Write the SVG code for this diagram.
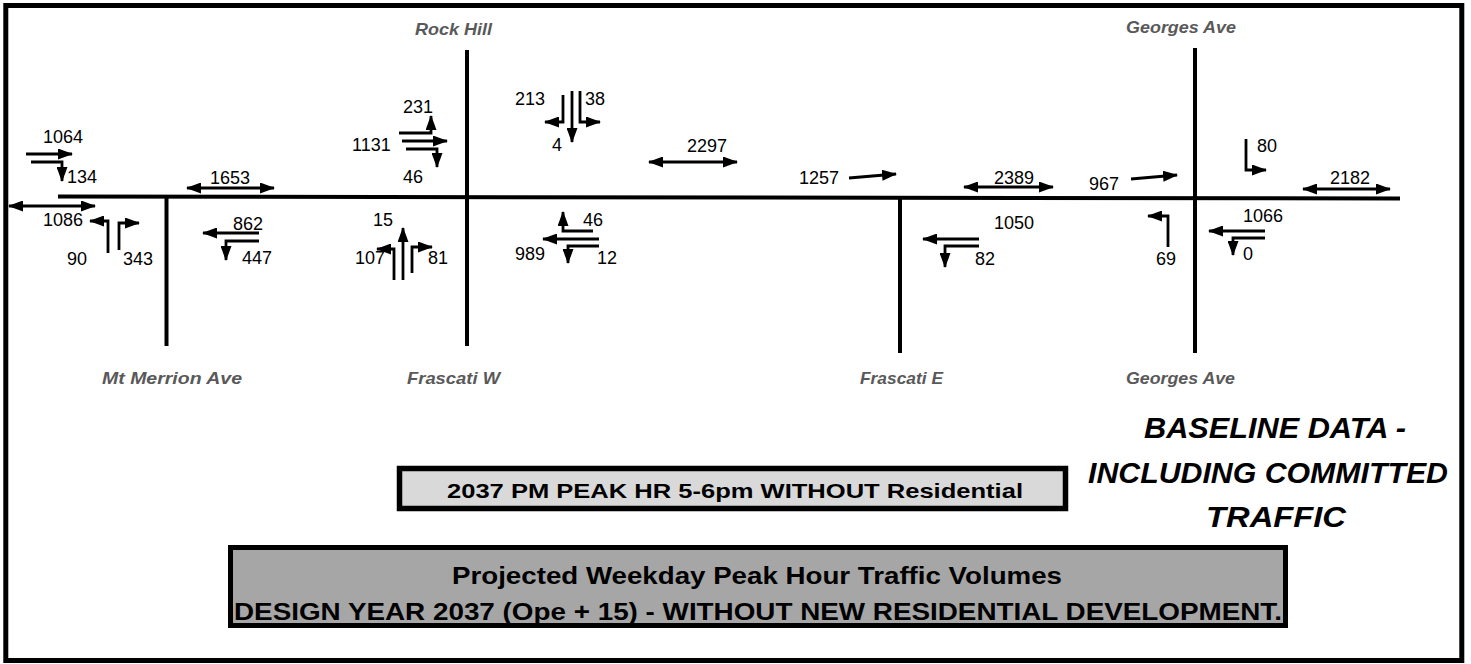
<svg xmlns="http://www.w3.org/2000/svg" width="1471" height="664" viewBox="0 0 1471 664">
<style>
.road{stroke:#000;stroke-width:4;fill:none}
.arr{stroke:#000;stroke-width:2.8;fill:none;marker-end:url(#ah)}
.dbl{stroke:#000;stroke-width:2.8;fill:none;marker-end:url(#ah);marker-start:url(#ah)}
.num{font-family:"Liberation Sans",Arial,sans-serif;font-size:18px;fill:#000}
.st{font-family:"Liberation Sans",Arial,sans-serif;font-size:17px;font-weight:bold;font-style:italic;fill:#595959}
.big{font-family:"Liberation Sans",Arial,sans-serif;font-weight:bold;fill:#000}
</style>
<defs>
<marker id="ah" viewBox="0 0 15 11" refX="14" refY="5.5" markerWidth="15" markerHeight="11" markerUnits="userSpaceOnUse" orient="auto-start-reverse">
<path d="M0,0 L15,5.5 L0,11 z" fill="#000"/>
</marker>
</defs>
<rect x="5.8" y="5.5" width="1456" height="655" fill="#fff" stroke="#000" stroke-width="5"/>

<g id="roads">
<path class="road" d="M58,196.5 L1400,198.5"/>
<path class="road" d="M166.5,197 V346"/>
<path class="road" d="M467,50 V346"/>
<path class="road" d="M900,198 V353"/>
<path class="road" d="M1195,48 V353"/>
</g>

<g id="street-labels">
<text class="st" x="415" y="35" textLength="77" lengthAdjust="spacingAndGlyphs">Rock Hill</text>
<text class="st" x="1126" y="33" textLength="110" lengthAdjust="spacingAndGlyphs">Georges Ave</text>
<text class="st" x="102" y="384" textLength="140" lengthAdjust="spacingAndGlyphs">Mt Merrion Ave</text>
<text class="st" x="407" y="384" textLength="93" lengthAdjust="spacingAndGlyphs">Frascati W</text>
<text class="st" x="860" y="384" textLength="83" lengthAdjust="spacingAndGlyphs">Frascati E</text>
<text class="st" x="1126" y="384" textLength="109" lengthAdjust="spacingAndGlyphs">Georges Ave</text>
</g>

<g id="connectors">
<path class="arr" d="M26,154 L72,154"/>
<path class="arr" d="M31,162 H62 V181"/>
<path class="dbl" d="M9,206 H95"/>
<path class="arr" d="M108,253 V221 H90"/>
<path class="arr" d="M119,250 V223 H139"/>
<path class="dbl" d="M187,188 H274"/>
<path class="arr" d="M259,233 H203"/>
<path class="arr" d="M259,241 H226 V260"/>

<path class="arr" d="M399,133 H431 V116"/>
<path class="arr" d="M402,141 H447"/>
<path class="arr" d="M406,149 H437 V167"/>
<path class="arr" d="M563,95 V122 H545"/>
<path class="arr" d="M572,91 V142"/>
<path class="arr" d="M580,91 V122 H600"/>
<path class="arr" d="M394,280 V249 H377"/>
<path class="arr" d="M403,280 V228"/>
<path class="arr" d="M412,273 V247 H432"/>
<path class="arr" d="M593,231 H563 V212"/>
<path class="arr" d="M599,239 H543"/>
<path class="arr" d="M599,246 H568 V263"/>

<path class="dbl" d="M649,162 H737"/>
<path class="arr" d="M849,178 L896,174"/>
<path class="dbl" d="M964,187 H1053"/>
<path class="arr" d="M979,239 H923"/>
<path class="arr" d="M979,246 H945 V267"/>

<path class="arr" d="M1131,179 L1177,175"/>
<path class="arr" d="M1246,139 V170 H1266"/>
<path class="dbl" d="M1303,189 H1390"/>
<path class="arr" d="M1168,247 V216 H1148"/>
<path class="arr" d="M1265,231 H1209"/>
<path class="arr" d="M1265,238 H1233 V255"/>
</g>

<g id="volumes">
<text class="num" x="43" y="143">1064</text>
<text class="num" x="67" y="183">134</text>
<text class="num" x="43" y="226">1086</text>
<text class="num" x="67" y="265">90</text>
<text class="num" x="123" y="265">343</text>
<text class="num" x="210" y="184">1653</text>
<text class="num" x="233" y="230">862</text>
<text class="num" x="242" y="264">447</text>
<text class="num" x="403" y="113">231</text>
<text class="num" x="352" y="151">1131</text>
<text class="num" x="403" y="183">46</text>
<text class="num" x="515" y="105">213</text>
<text class="num" x="585" y="105">38</text>
<text class="num" x="552" y="151">4</text>
<text class="num" x="373" y="226">15</text>
<text class="num" x="355" y="264">107</text>
<text class="num" x="428" y="264">81</text>
<text class="num" x="583" y="226">46</text>
<text class="num" x="515" y="260">989</text>
<text class="num" x="597" y="264">12</text>
<text class="num" x="687" y="152">2297</text>
<text class="num" x="799" y="184">1257</text>
<text class="num" x="994" y="184">2389</text>
<text class="num" x="994" y="229">1050</text>
<text class="num" x="975" y="265">82</text>
<text class="num" x="1257" y="152">80</text>
<text class="num" x="1330" y="184">2182</text>
<text class="num" x="1089" y="190">967</text>
<text class="num" x="1156" y="265">69</text>
<text class="num" x="1243" y="222">1066</text>
<text class="num" x="1243" y="260">0</text>
</g>

<g id="period-box">
<rect x="399.5" y="468.5" width="666" height="40" fill="#d9d9d9" stroke="#000" stroke-width="5.5"/>
<text class="big" x="735" y="498" font-size="21" text-anchor="middle" textLength="576" lengthAdjust="spacingAndGlyphs">2037 PM PEAK HR 5-6pm WITHOUT Residential</text>
</g>

<g id="baseline-note">
<text class="big" x="1275" y="438" font-size="29" font-style="italic" text-anchor="middle" textLength="262" lengthAdjust="spacingAndGlyphs">BASELINE DATA -</text>
<text class="big" x="1268" y="483" font-size="29" font-style="italic" text-anchor="middle" textLength="360" lengthAdjust="spacingAndGlyphs">INCLUDING COMMITTED</text>
<text class="big" x="1276" y="527" font-size="29" font-style="italic" text-anchor="middle" textLength="140" lengthAdjust="spacingAndGlyphs">TRAFFIC</text>
</g>

<g id="title-box">
<rect x="230.5" y="547.5" width="1055" height="78" fill="#a6a6a6" stroke="#000" stroke-width="5"/>
<text class="big" x="757" y="584" font-size="23" text-anchor="middle" textLength="610" lengthAdjust="spacingAndGlyphs">Projected Weekday Peak Hour Traffic Volumes</text>
<text class="big" x="758" y="620" font-size="23" text-anchor="middle" textLength="1048" lengthAdjust="spacingAndGlyphs">DESIGN YEAR 2037 (Ope + 15) - WITHOUT NEW RESIDENTIAL DEVELOPMENT.</text>
</g>
</svg>
